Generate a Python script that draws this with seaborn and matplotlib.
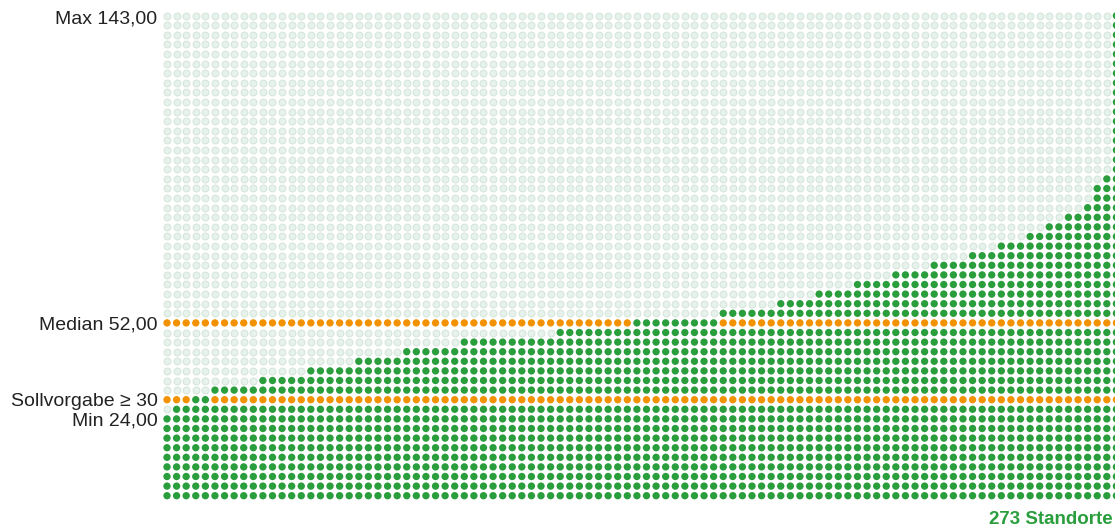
import numpy as np
import pandas as pd
import matplotlib
matplotlib.use("Agg")
import matplotlib.pyplot as plt
import seaborn as sns

# Percentile profile of the 273 sites: one column per percentile (100 columns),
# stored as runs of equal values (value, number of columns).
step_values = [24, 26, 29, 32, 35, 37, 40, 43, 46, 49, 52, 55, 57, 60, 63,
               66, 69, 72, 75, 78, 80, 83, 86, 92, 95, 143]
step_widths = [1, 2, 2, 5, 5, 5, 5, 6, 10, 8, 9, 6, 4, 4, 4,
               4, 4, 3, 3, 2, 2, 2, 1, 1, 1, 1]

value_min = 24.0
value_max = 143.0
value_median = 52.0
target_value = 30
n_sites = 273

# Grid geometry
n_rows = 50                      # dot rows above the base row
unit = value_max / n_rows        # value represented by one dot row

GREEN = "#2a9e3c"
ORANGE = "#f39200"
EMPTY_FACE = "#e8f2ec"
EMPTY_EDGE = "#d6e7dc"
TEXT = "#222222"

col_values = np.repeat(step_values, step_widths)
levels = np.rint(col_values / unit).astype(int)
median_row = int(np.rint(value_median / unit))
target_row = int(np.rint(target_value / unit))
line_rows = {median_row, target_row}

records = []
for col, top in enumerate(levels):
    for row in range(n_rows + 1):
        state = "filled" if row <= top else "empty"
        if row in line_rows and row != top:
            state = "line"
        records.append((col, row, state))
grid = pd.DataFrame(records, columns=["col", "row", "state"])

sns.set_style("white")
plt.rcParams["font.family"] = ["Liberation Sans", "DejaVu Sans"]

fig = plt.figure(figsize=(11.15, 5.29), dpi=100)
ax = fig.add_axes([0, 0, 1, 1])

# pixel layout of the dot grid
x0_px, dx_px = 167.0, 9.59
y0_px, dy_px = 33.3, 9.6
W, H = 1115, 529
ax.set_xlim(-x0_px / dx_px, (W - x0_px) / dx_px)
ax.set_ylim(-y0_px / dy_px, (H - y0_px) / dy_px)

sns.scatterplot(data=grid[grid.state == "empty"], x="col", y="row",
                color=EMPTY_FACE, edgecolor=EMPTY_EDGE, linewidth=0.8,
                s=24, legend=False, ax=ax, zorder=2)
sns.scatterplot(data=grid[grid.state != "empty"], x="col", y="row",
                hue="state", palette={"filled": GREEN, "line": ORANGE},
                edgecolor="none", linewidth=0, s=28, legend=False,
                ax=ax, zorder=3)

def fmt(v):
    return f"{v:.2f}".replace(".", ",")

label_x = -1.0
nudge = -0.2
ax.text(label_x, n_rows - 0.3, f"Max {fmt(value_max)}", ha="right",
        va="center", fontsize=14, color=TEXT)
ax.text(label_x, median_row + nudge, f"Median {fmt(value_median)}",
        ha="right", va="center", fontsize=14, color=TEXT)
ax.text(label_x, target_row + nudge, f"Sollvorgabe \u2265 {target_value}",
        ha="right", va="center", fontsize=14, color=TEXT)
ax.text(label_x, levels[0] + nudge, f"Min {fmt(value_min)}", ha="right",
        va="center", fontsize=14, color=TEXT)
ax.text(len(levels) - 1.4, -2.45, f"{n_sites} Standorte", ha="right",
        va="center", fontsize=13.5, fontweight="bold", color=GREEN)

ax.set_axis_off()
fig.savefig("out.png", dpi=100, facecolor="white")
